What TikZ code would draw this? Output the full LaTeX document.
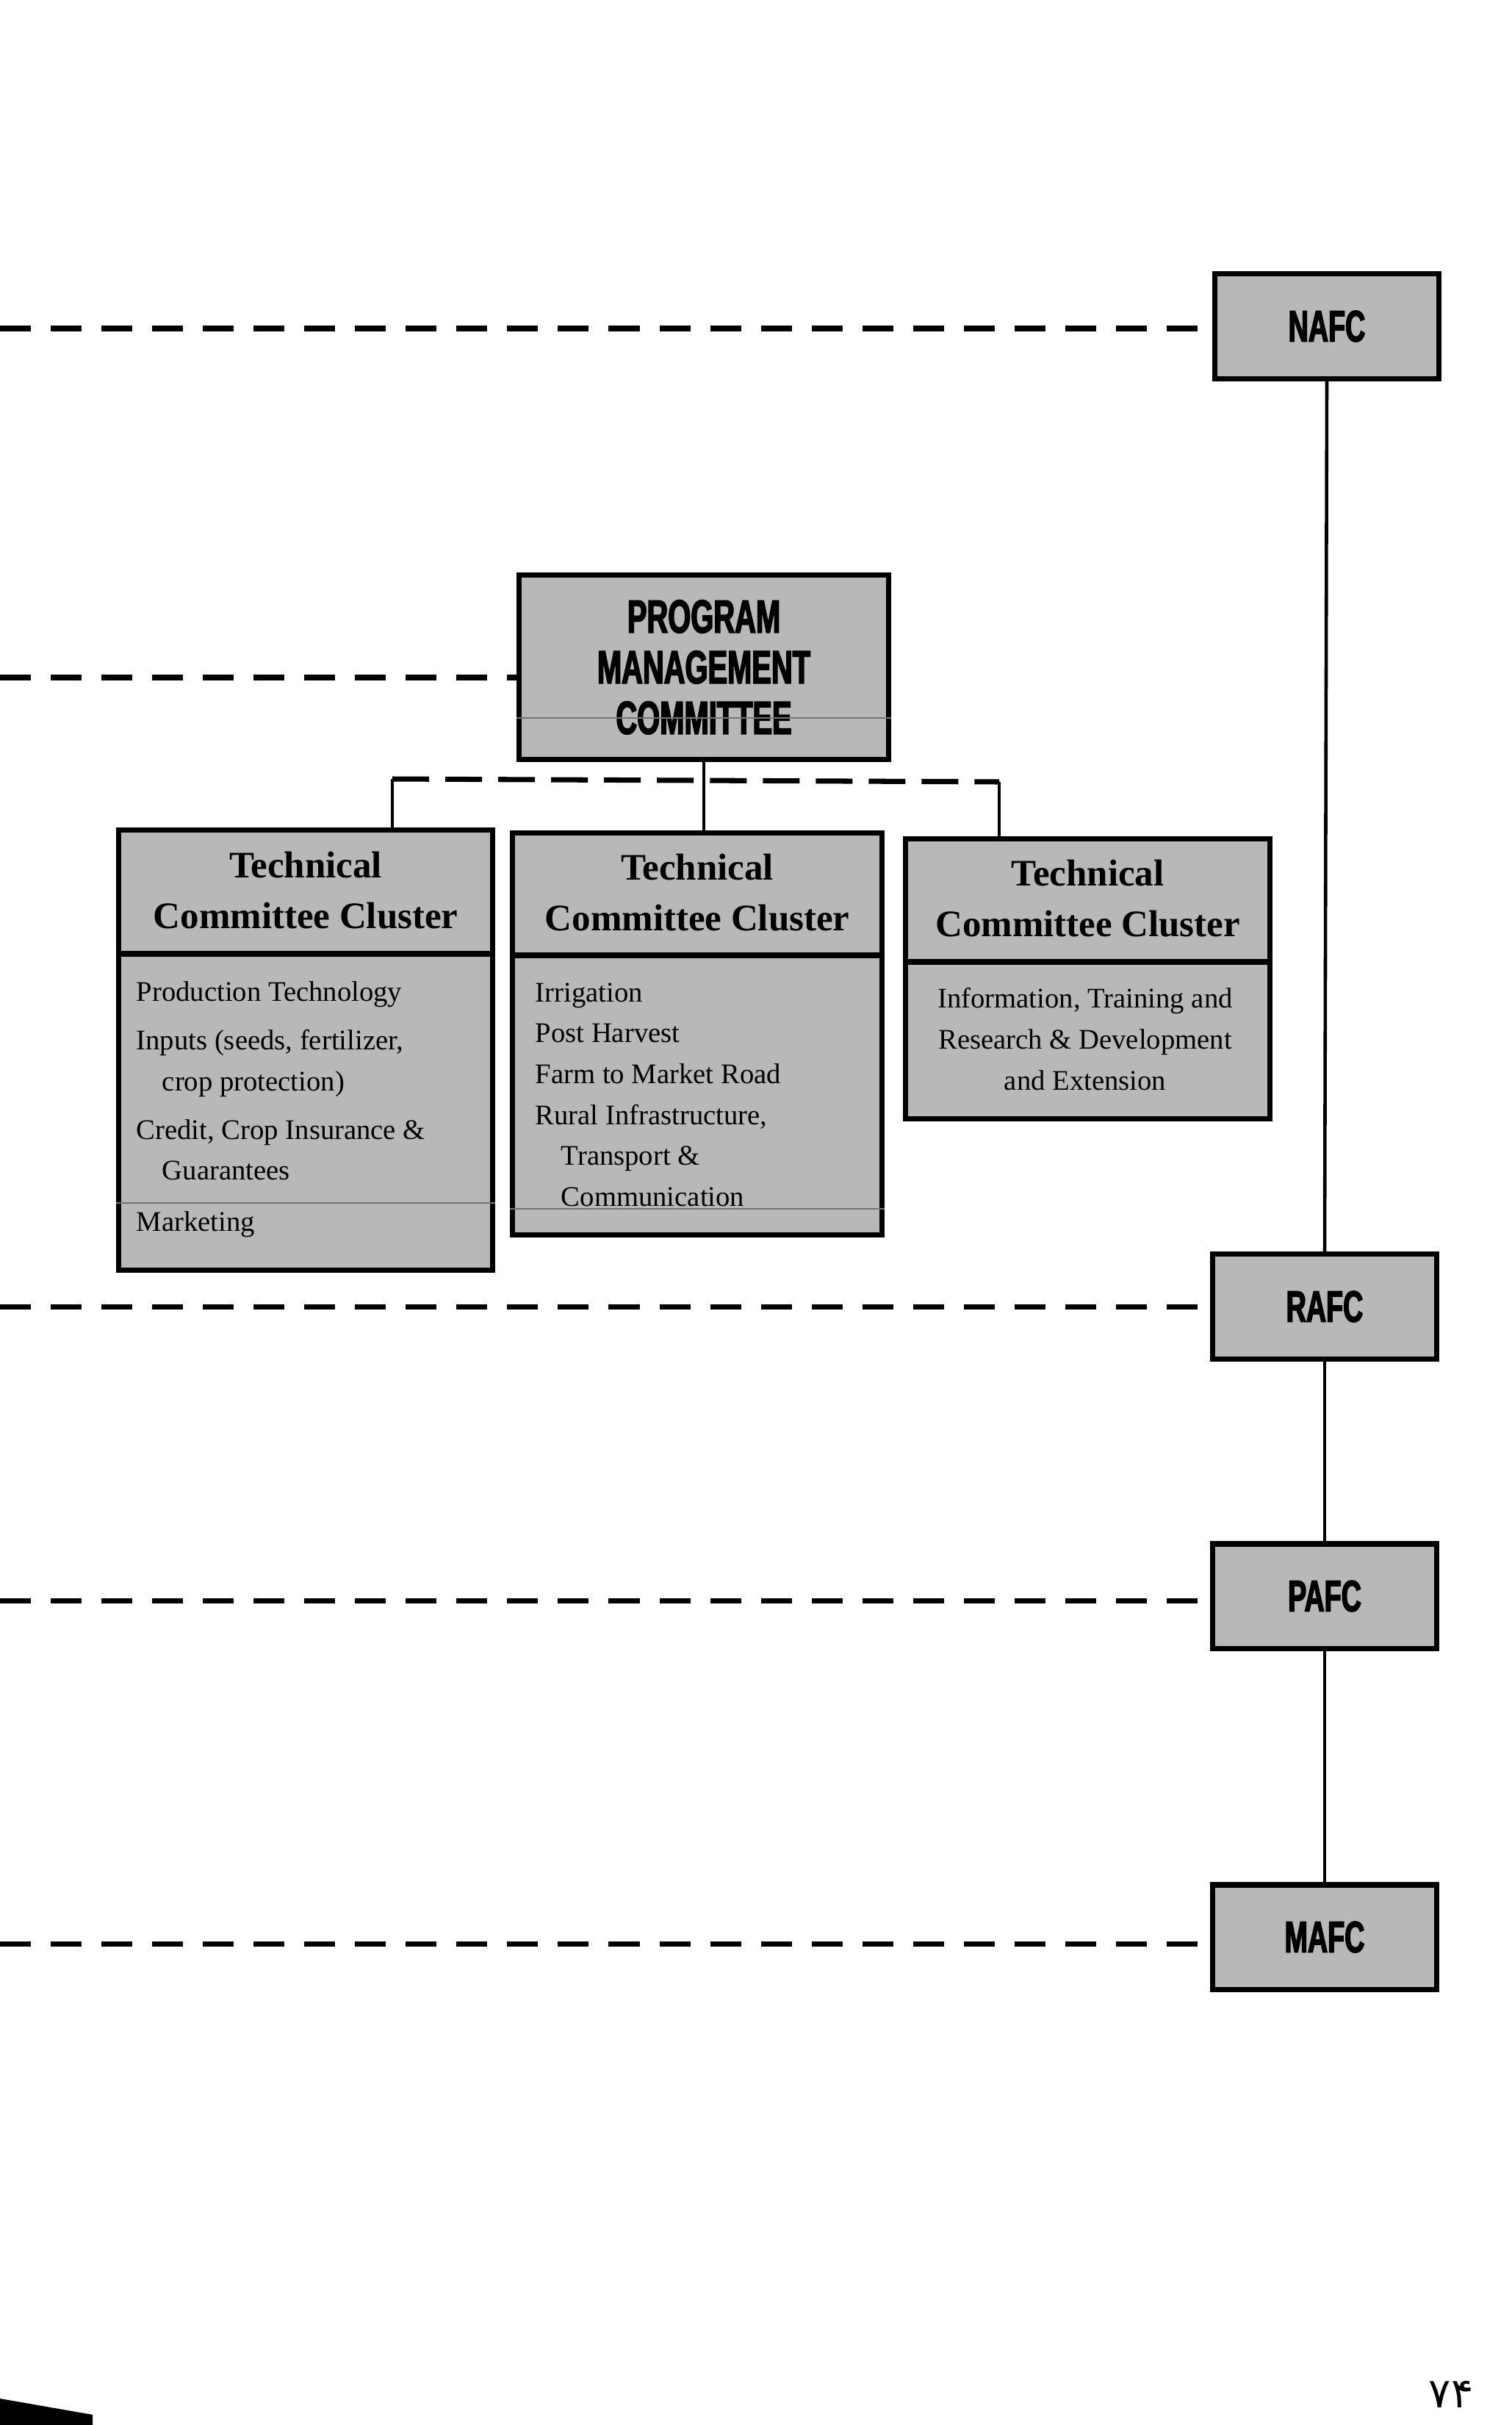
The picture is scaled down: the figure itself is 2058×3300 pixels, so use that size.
\documentclass[tikz,border=0pt]{standalone}
\usepackage{fontspec}
\setmainfont{Liberation Serif}
\newfontfamily\heavyfont{Liberation Sans}[FakeStretch=0.63,FakeBold=2.5]
\newfontfamily\arabicfont[Script=Arabic]{DejaVu Sans}
\usepackage{tikz}
\usetikzlibrary{positioning}

\begin{document}
\begin{tikzpicture}[
  x=0.01cm, y=-0.01cm,
  afc/.style={draw, line width=2pt, fill=black!28, minimum width=3.05cm,
    minimum height=1.42cm, font=\heavyfont\bfseries\fontsize{17}{20}\selectfont},
  pmcbox/.style={draw, line width=2pt, fill=black!28, minimum width=5.03cm,
    minimum height=2.5cm, align=center,
    font=\heavyfont\bfseries\fontsize{18}{19.6}\selectfont},
  cluster/.style={draw, line width=2pt, fill=black!28, anchor=north west},
  ctitle/.style={align=center, inner sep=0pt,
    font=\bfseries\fontsize{14.5}{19.6}\selectfont},
  citems/.style={align=left, anchor=north west, inner sep=0pt,
    font=\fontsize{11}{15.8}\selectfont},
  sep/.style={line width=2pt},
  faint/.style={black!55, line width=0.6pt},
  afcline/.style={line width=2pt, dash pattern=on 0.42cm off 0.27cm},
  tcbar/.style={line width=2pt, dash pattern=on 0.5cm off 0.22cm},
  link/.style={line width=1.3pt}
]
  \useasboundingbox (0,0) rectangle (2058,3300);

  \node[afc] (nafc) at (1806,444) {NAFC};
  \node[afc] (rafc) at (1803,1778) {RAFC};
  \node[afc] (pafc) at (1803,2172) {PAFC};
  \node[afc] (mafc) at (1803,2636) {MAFC};

  \node[pmcbox] (pmc) at (958,908) {PROGRAM\\MANAGEMENT\\COMMITTEE};
  \draw[faint] (pmc.west |- 0,977) -- (pmc.east |- 0,977);

  \node[cluster, minimum width=5.09cm, minimum height=5.99cm] (tc1) at (158,1126) {};
  \node[cluster, minimum width=5.03cm, minimum height=5.47cm] (tc2) at (694,1130) {};
  \node[cluster, minimum width=4.96cm, minimum height=3.81cm] (tc3) at (1229,1138) {};

  \draw[sep] (tc1.west |- 0,1298) -- (tc1.east |- 0,1298);
  \draw[sep] (tc2.west |- 0,1300) -- (tc2.east |- 0,1300);
  \draw[sep] (tc3.west |- 0,1309) -- (tc3.east |- 0,1309);
  \draw[faint] (tc1.west |- 0,1637) -- (tc1.east |- 0,1637);
  \draw[faint] (tc2.west |- 0,1645) -- (tc2.east |- 0,1645);

  \node[ctitle] (tc1t) at ([yshift=-0.86cm]tc1.north) {Technical\\Committee Cluster};
  \node[ctitle] (tc2t) at ([yshift=-0.85cm]tc2.north) {Technical\\Committee Cluster};
  \node[ctitle] (tc3t) at ([yshift=-0.85cm]tc3.north) {Technical\\Committee Cluster};

  \node[citems] (tc1b) at (185,1335) {Production Technology\\[3pt]
    Inputs (seeds, fertilizer,\\ \hspace*{10pt}crop protection)\\[3pt]
    Credit, Crop Insurance \&\\ \hspace*{10pt}Guarantees\\[4pt]
    Marketing};
  \node[citems] (tc2b) at (728,1337) {Irrigation\\Post Harvest\\
    Farm to Market Road\\Rural Infrastructure,\\
    \hspace*{10pt}Transport \&\\ \hspace*{10pt}Communication};
  \node[citems, anchor=center, align=center] (tc3b) at (1477,1414)
    {Information, Training and\\Research \& Development\\and Extension};

  \coordinate (jl) at (534,1060);
  \coordinate (jr) at (1360,1064);
  \draw[tcbar] (jl) -- (jr);
  \draw[link] (jl) -- (jl |- tc1.north);
  \draw[link] (jr) -- (jr |- tc3.north);
  \draw[link] (pmc.south) -- (pmc.south |- tc2.north);

  \draw[link] (nafc.south) -- (rafc.north);
  \draw[link] (rafc.south) -- (pafc.north);
  \draw[link] (pafc.south) -- (mafc.north);

  \coordinate (lpmc) at (0,922);
  \draw[afcline] (lpmc) -- (lpmc -| pmc.west);
  \foreach \b/\y in {nafc/447, rafc/1778, pafc/2178, mafc/2645} {
    \coordinate (l\b) at (0,\y);
    \draw[afcline] (l\b) -- (l\b -| \b.west);
  }

  \node (page) at (1975,3258) {\arabicfont\fontsize{16}{18}\selectfont ۷۴};
  \fill (0,3264) -- (126,3286) -- (126,3300) -- (0,3300) -- cycle;
\end{tikzpicture}
\end{document}
